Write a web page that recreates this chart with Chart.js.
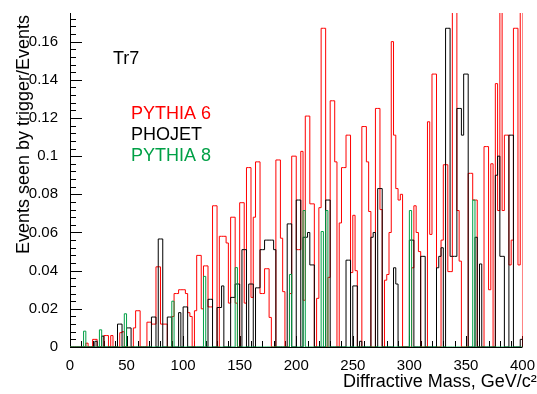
<!DOCTYPE html>
<html>
<head>
<meta charset="utf-8">
<script src="https://cdn.jsdelivr.net/npm/chart.js@4.4.0/dist/chart.umd.min.js"></script>
<style>
  html, body { margin: 0; padding: 0; background: #fff; }
</style>
</head>
<body>
<canvas id="histChart" width="537" height="394"></canvas>
<script>
// Diffractive mass histograms, 2 GeV bins from 0 to 400
var binWidth = 2;
var massMax = 400;

var yTicks = [0, 0.02, 0.04, 0.06, 0.08, 0.1, 0.12, 0.14, 0.16];
var xTicks = [0, 50, 100, 150, 200, 250, 300, 350, 400];

var seriesNames = ['PYTHIA 6', 'PHOJET', 'PYTHIA 8'];

// PYTHIA 6 (red)
var pythia6 = [
  0, 0, 0, 0, 0, 0, 0, 0.002, 0, 0, 0.004, 0.004, 0, 0, 0, 0.006, 0.006, 0, 0.006, 0,
  0, 0, 0.0075, 0.008, 0, 0, 0, 0, 0.010, 0.019, 0.019, 0, 0, 0, 0.013, 0.013, 0.012, 0.012, 0.042, 0.042,
  0.012, 0.012, 0.012, 0, 0, 0.016, 0.028, 0.028, 0.030, 0.030, 0.030, 0.028, 0.018, 0.016, 0, 0.019, 0.048, 0.048, 0.020, 0.0425,
  0.0425, 0.021, 0.021, 0.074, 0.074, 0, 0.058, 0.058, 0.058, 0.0545, 0.023, 0.068, 0.068, 0.023, 0, 0.0756, 0.0756, 0.023, 0.094, 0.094,
  0.026, 0.068, 0.097, 0.097, 0.028, 0.028, 0.041, 0.041, 0.0155, 0, 0, 0.098, 0.098, 0.057, 0.029, 0, 0, 0.028, 0.100, 0.100,
  0.051, 0.051, 0.1025, 0.0245, 0.121, 0.121, 0.075, 0.075, 0, 0.0255, 0.073, 0.167, 0.167, 0, 0.0365, 0.129, 0.129, 0.097, 0, 0.065,
  0.094, 0.094, 0.111, 0.111, 0.039, 0.069, 0.040, 0, 0, 0.1155, 0.1155, 0.097, 0.071, 0, 0, 0.125, 0.125, 0.072, 0, 0.035,
  0.038, 0.060, 0.160, 0.111, 0.083, 0.077, 0.080, 0, 0, 0, 0, 0.0415, 0.074, 0.060, 0.050, 0, 0, 0, 0.118, 0.059,
  0.143, 0.143, 0, 0, 0.056, 0.0955, 0.0955, 0.0395, 0.0395, 0.18, 0.18, 0.0715, 0.045, 0, 0, 0, 0.091, 0.091, 0.077, 0.077,
  0, 0, 0, 0.105, 0.105, 0.030, 0.096, 0, 0.138, 0.0715, 0.18, 0.0715, 0.111, 0.111, 0.043, 0.056, 0.167, 0.167, 0.043, 0.18
];

// PHOJET (black)
var phojet = [
  0, 0, 0, 0, 0, 0, 0, 0, 0, 0, 0, 0.003, 0, 0, 0.0057, 0, 0, 0, 0, 0,
  0, 0.012, 0.012, 0, 0, 0.010, 0.010, 0, 0, 0, 0, 0, 0, 0, 0, 0, 0.0157, 0.0157, 0, 0.0566,
  0.0566, 0, 0, 0.0157, 0.0157, 0, 0, 0, 0.018, 0, 0.021, 0.021, 0, 0, 0, 0, 0, 0, 0, 0,
  0, 0.025, 0.025, 0, 0, 0.0207, 0.0207, 0.032, 0, 0, 0, 0.026, 0.026, 0.033, 0.033, 0, 0.051, 0.051, 0, 0.033,
  0.033, 0, 0.031, 0.031, 0.051, 0.051, 0.056, 0.056, 0.056, 0.056, 0.051, 0, 0, 0, 0, 0, 0.0645, 0.0645, 0, 0,
  0.077, 0.077, 0, 0.0575, 0.0575, 0.060, 0.043, 0.043, 0, 0, 0, 0, 0, 0.077, 0.077, 0, 0, 0, 0, 0,
  0, 0, 0.0455, 0.0455, 0, 0.032, 0.032, 0, 0.003, 0, 0, 0, 0, 0.0575, 0.060, 0, 0.083, 0.083, 0, 0,
  0, 0, 0, 0.0415, 0.033, 0, 0, 0, 0, 0, 0.056, 0.056, 0, 0, 0, 0.0475, 0.0475, 0, 0, 0,
  0, 0, 0.0415, 0.0475, 0.052, 0, 0.167, 0.167, 0.0475, 0.0475, 0.0475, 0.125, 0.125, 0.111, 0.143, 0.143, 0, 0, 0, 0.0575,
  0, 0.0435, 0, 0, 0, 0, 0, 0, 0.090, 0.100, 0.0475, 0.0475, 0, 0, 0.111, 0.111, 0, 0, 0, 0.004
];

// PYTHIA 8 (green)
var pythia8 = [
  0, 0, 0, 0, 0, 0, 0.0083, 0, 0, 0, 0, 0, 0, 0.009, 0, 0, 0, 0, 0, 0,
  0, 0, 0, 0, 0.0174, 0, 0, 0, 0, 0, 0, 0, 0, 0, 0, 0, 0, 0, 0, 0,
  0, 0, 0, 0, 0, 0.024, 0, 0, 0, 0, 0, 0, 0, 0, 0, 0, 0, 0, 0, 0.037,
  0, 0, 0, 0, 0, 0, 0, 0, 0, 0, 0, 0, 0, 0.0416, 0, 0, 0, 0, 0, 0,
  0, 0, 0, 0, 0, 0, 0, 0, 0, 0, 0, 0, 0, 0, 0, 0, 0, 0.038, 0, 0,
  0, 0, 0, 0.0715, 0, 0, 0, 0, 0, 0, 0, 0.0605, 0, 0.0715, 0, 0, 0, 0, 0, 0,
  0, 0, 0, 0, 0, 0, 0, 0, 0, 0, 0, 0, 0, 0, 0, 0, 0, 0, 0, 0,
  0, 0, 0, 0, 0, 0, 0, 0, 0, 0, 0.0715, 0, 0, 0, 0, 0, 0, 0, 0, 0,
  0, 0, 0, 0, 0, 0, 0, 0, 0, 0, 0, 0, 0, 0, 0, 0, 0, 0, 0.077, 0,
  0, 0, 0, 0, 0, 0, 0, 0, 0, 0, 0, 0, 0, 0, 0, 0, 0, 0, 0, 0
];

var red = 'rgb(255, 0, 0)';
var green = 'rgb(0, 160, 70)';
var fontName = '"Liberation Sans", Arial, sans-serif';

// turn bin contents into step points (low edge of each bin, closed at 400)
function toSteps(vals) {
    var pts = vals.map(function(v, i) { return { x: i * binWidth, y: v }; });
    pts.push({ x: massMax, y: 0 });
    return pts;
}

// ROOT-like axes: ticks pointing inwards, minor ticks, no frame
// drawn before the histograms so the green one sits on the baseline
var rootAxes = {
    id: 'rootAxes',
    beforeDatasetsDraw: function(chart) {
        var ctx = chart.ctx, a = chart.chartArea;
        var x = chart.scales.x, y = chart.scales.y;
        ctx.save();
        ctx.strokeStyle = '#000';
        ctx.lineWidth = 1;
        ctx.beginPath();
        ctx.moveTo(Math.round(a.left) + 0.5, a.top);
        ctx.lineTo(Math.round(a.left) + 0.5, Math.round(a.bottom) + 0.5);
        ctx.lineTo(a.right, Math.round(a.bottom) + 0.5);
        // y ticks every 0.004, major every 0.02
        for (var k = 0; k * 0.004 <= y.max + 1e-9; k++) {
            var py = Math.round(y.getPixelForValue(k * 0.004)) + 0.5;
            var len = (k % 5 === 0) ? 12 : 6;
            ctx.moveTo(a.left, py);
            ctx.lineTo(a.left + len, py);
        }
        // x ticks every 10, major every 50
        for (var m = 0; m * 10 <= massMax; m++) {
            var px = Math.round(x.getPixelForValue(m * 10)) + 0.5;
            var l2 = (m % 5 === 0) ? 11 : 6;
            ctx.moveTo(px, a.bottom);
            ctx.lineTo(px, a.bottom - l2);
        }
        ctx.stroke();
        ctx.restore();
    },
    afterDraw: function(chart) {
        var ctx = chart.ctx;
        ctx.save();
        ctx.font = '18px ' + fontName;
        ctx.fillStyle = '#000';
        // axis titles
        ctx.textAlign = 'left';
        ctx.textBaseline = 'alphabetic';
        ctx.fillText('Diffractive Mass, GeV/c\u00b2', 343, 387);
        ctx.save();
        ctx.translate(29, 15);
        ctx.rotate(-Math.PI / 2);
        ctx.textAlign = 'right';
        ctx.fillText('Events seen by trigger/Events', 0, 0);
        ctx.restore();
        // legend block
        ctx.fillText('Tr7', 113, 64);
        ctx.fillStyle = red;
        ctx.fillText(seriesNames[0], 131, 119);
        ctx.fillStyle = '#000';
        ctx.fillText(seriesNames[1], 131, 140);
        ctx.fillStyle = green;
        ctx.fillText(seriesNames[2], 131, 161);
        ctx.restore();
    }
};

var ctx = document.getElementById('histChart').getContext('2d');
var myChart = new Chart(ctx, {
    type: 'line',
    data: {
        datasets: [{
            label: seriesNames[2],
            data: toSteps(pythia8),
            borderColor: green,
            order: 0
        }, {
            label: seriesNames[1],
            data: toSteps(phojet),
            borderColor: '#000',
            order: 1
        }, {
            label: seriesNames[0],
            data: toSteps(pythia6),
            borderColor: red,
            order: 2
        }]
    },
    options: {
        responsive: false,
        animation: false,
        events: [],
        layout: { padding: { left: 0, top: 9, right: 14, bottom: 0 } },
        elements: {
            line: { borderWidth: 1, stepped: true, tension: 0, fill: false },
            point: { radius: 0 }
        },
        plugins: {
            legend: { display: false },
            tooltip: { enabled: false }
        },
        scales: {
            x: {
                type: 'linear',
                min: 0,
                max: massMax,
                grid: { display: false },
                border: { display: false },
                afterBuildTicks: function(scale) {
                    scale.ticks = xTicks.map(function(v) { return { value: v }; });
                },
                afterFit: function(scale) { scale.height = 47; },
                ticks: {
                    padding: 2,
                    color: '#000',
                    maxRotation: 0,
                    font: { family: fontName, size: 15 },
                    callback: function(v) { return String(v); }
                }
            },
            y: {
                type: 'linear',
                min: 0,
                max: 0.175,
                grid: { display: false },
                border: { display: false },
                afterBuildTicks: function(scale) {
                    scale.ticks = yTicks.map(function(v) { return { value: v }; });
                },
                afterFit: function(scale) { scale.width = 70; },
                ticks: {
                    padding: 4,
                    color: '#000',
                    font: { family: fontName, size: 15 },
                    callback: function(v) { return String(+v.toFixed(2)); }
                }
            }
        }
    },
    plugins: [rootAxes]
});
</script>
</body>
</html>
